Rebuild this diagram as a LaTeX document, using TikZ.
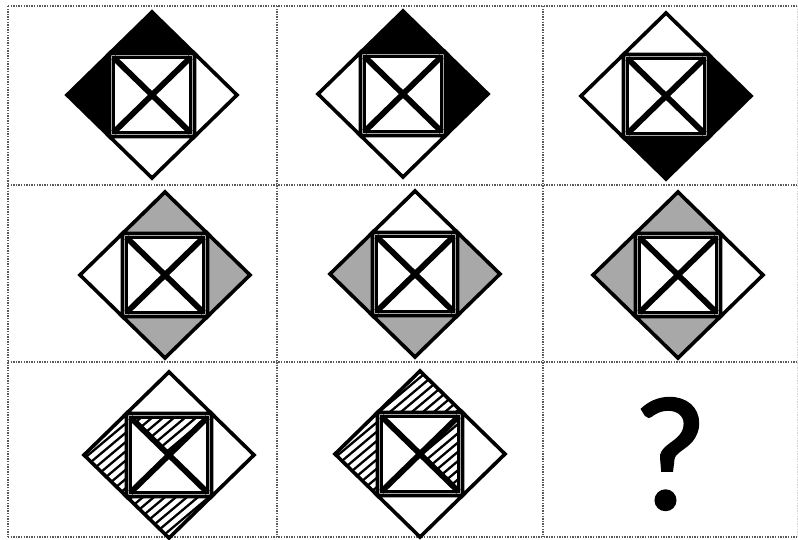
\documentclass[tikz,border=0pt]{standalone}
\usepackage{fontspec}
\newfontfamily\qfont[FakeBold=1.6]{Carlito}
\definecolor{grayfill}{RGB}{168,168,168}
\definecolor{gridcol}{RGB}{90,90,90}
\tikzset{
  triline/.style={draw=black,line width=3.6pt,line join=miter},
  sqline/.style={draw=black,line width=3.2pt,line join=miter},
  xline/.style={draw=black,line width=5.8pt},
  gridline/.style={draw=gridcol,line width=1.4pt,dash pattern=on 1.4pt off 1.2pt},
  blk/.style={fill=black},
  gry/.style={fill=grayfill},
  wht/.style={fill=white},
  hatch/.style={path picture={
    \foreach \s in {-160,-149,...,160}
      \draw[line width=2.3pt] ([xshift=\s pt]path picture bounding box.center) ++(-120,100.8) -- ++(240,-201.6);}},
}
% #1 cx, #2 cy, #3 name, #4 top, #5 left, #6 right, #7 bottom, #8 extra code
\newcommand\puzfig[8]{%
\begin{scope}[shift={(#1,#2)}]
  \coordinate (#3T) at (0,-83);
  \coordinate (#3L) at (-85,0);
  \coordinate (#3R) at (85,0);
  \coordinate (#3B) at (0,83);
  \coordinate (#3a) at (-42.5,-41.5);
  \coordinate (#3b) at (42.5,-41.5);
  \coordinate (#3c) at (42.5,41.5);
  \coordinate (#3d) at (-42.5,41.5);
  \coordinate (#3A) at (-38.6,-37.6);
  \coordinate (#3B2) at (38.6,-37.6);
  \coordinate (#3C) at (38.6,37.6);
  \coordinate (#3D) at (-38.6,37.6);
  \coordinate (#3O) at (0,0);
  \path[#4] (#3T) -- (#3b) -- (#3a) -- cycle;
  \path[#5] (#3L) -- (#3a) -- (#3d) -- cycle;
  \path[#6] (#3R) -- (#3c) -- (#3b) -- cycle;
  \path[#7] (#3B) -- (#3d) -- (#3c) -- cycle;
  #8
  \draw[triline] (#3T) -- (#3b) -- (#3a) -- cycle;
  \draw[triline] (#3L) -- (#3a) -- (#3d) -- cycle;
  \draw[triline] (#3R) -- (#3c) -- (#3b) -- cycle;
  \draw[triline] (#3B) -- (#3d) -- (#3c) -- cycle;
  \draw[sqline] (#3A) -- (#3B2) -- (#3C) -- (#3D) -- cycle;
  \draw[xline] (#3A) -- (#3C) (#3B2) -- (#3D);
\end{scope}}
\begin{document}
\begin{tikzpicture}[x=1pt,y=-1pt]
\useasboundingbox (0,0) rectangle (798,540);
\fill[white] (0,0) rectangle (798,540);
% grid
\coordinate (gTL) at (8,6);
\coordinate (gTR) at (798,6);
\coordinate (gM1L) at (8,185);
\coordinate (gM1R) at (798,185);
\coordinate (gM2L) at (8,362);
\coordinate (gM2R) at (798,362);
\coordinate (gBL) at (8,537);
\coordinate (gBR) at (798,537);
\coordinate (v1T) at (277,6);
\coordinate (v1B) at (277,537);
\coordinate (v2T) at (543,6);
\coordinate (v2B) at (543,537);
\draw[gridline] (gTL) -- (gTR);
\draw[gridline] (gM1L) -- (gM1R);
\draw[gridline] (gM2L) -- (gM2R);
\draw[gridline] (gBL) -- (gBR);
\draw[gridline] (gTL) -- (gBL);
\draw[gridline] (v1T) -- (v1B);
\draw[gridline] (v2T) -- (v2B);
\draw[gridline,draw=gridcol!25] (gTR) -- (gBR);
% figures
\puzfig{152}{95}{f1}{blk}{blk}{wht}{wht}{}
\puzfig{403}{94}{f2}{blk}{wht}{blk}{wht}{}
\puzfig{666}{96}{f3}{wht}{wht}{blk}{blk}{}
\puzfig{165}{275}{f4}{gry}{wht}{gry}{gry}{}
\puzfig{415}{274}{f5}{wht}{gry}{gry}{gry}{}
\puzfig{678}{275}{f6}{gry}{gry}{wht}{gry}{}
\puzfig{169}{455}{f7}{wht}{hatch}{wht}{hatch}{\path[hatch] (f7A) -- (f7B2) -- (f7O) -- cycle;}
\puzfig{420}{454}{f8}{hatch}{hatch}{wht}{wht}{\path[hatch] (f8B2) -- (f8C) -- (f8O) -- cycle;}
\node[inner sep=0pt] (qmark) at (670,454) {\qfont\fontsize{162}{162}\selectfont ?};
\end{tikzpicture}
\end{document}
